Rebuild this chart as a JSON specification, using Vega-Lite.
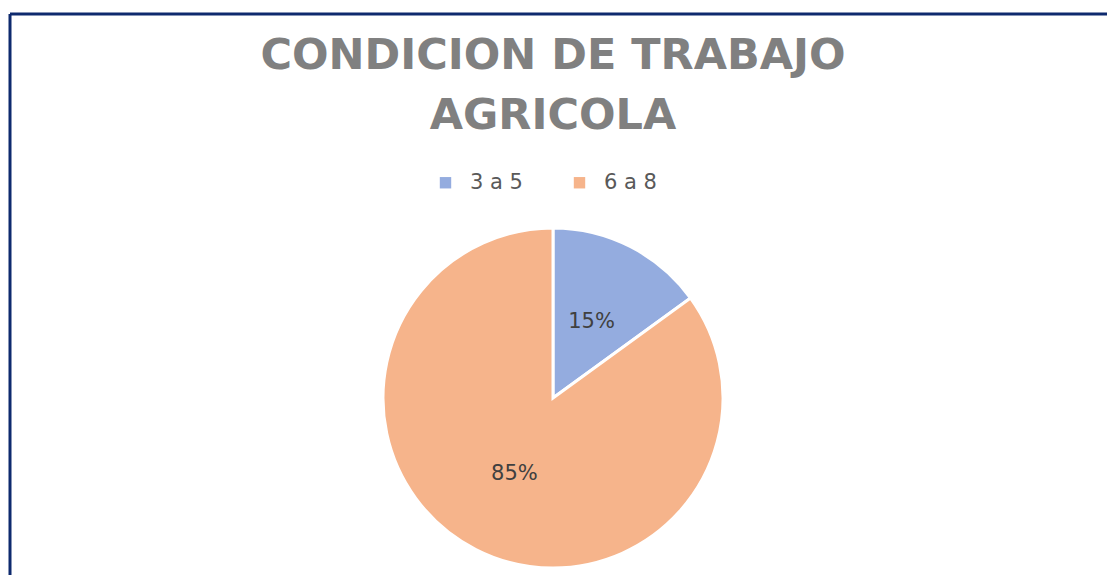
{
  "$schema": "https://vega.github.io/schema/vega-lite/v6.json",
  "width": 1097,
  "height": 561,
  "padding": {"left": 10, "top": 14, "right": 2, "bottom": 0},
  "autosize": {"type": "none"},
  "background": "white",
  "view": {"stroke": "#0E2A6E", "strokeWidth": 3, "strokeDash": [1097, 1658, 561, 0]},
  "title": {
    "text": ["CONDICION DE TRABAJO", "AGRICOLA"],
    "font": "DejaVu Sans",
    "fontSize": 43,
    "fontWeight": "bold",
    "color": "#808080",
    "anchor": "start",
    "orient": "top",
    "offset": -124,
    "lineHeight": 60,
    "dx": 543,
    "align": "center",
    "baseline": "top"
  },
  "data": {
    "values": [
      {"grupo": "3 a 5", "share": 0.15, "orden": 1},
      {"grupo": "6 a 8", "share": 0.85, "orden": 2}
    ]
  },
  "layer": [
    {
      "mark": {"type": "arc", "outerRadius": 170, "stroke": "white", "strokeWidth": 3},
      "encoding": {
        "theta": {"field": "share", "type": "quantitative", "stack": true},
        "order": {"field": "orden", "type": "quantitative"},
        "color": {
          "field": "grupo",
          "type": "nominal",
          "scale": {"domain": ["3 a 5", "6 a 8"], "range": ["#94ACDF", "#F6B48B"]},
          "legend": {
            "orient": "none",
            "legendX": 425,
            "legendY": 158,
            "direction": "horizontal",
            "title": null,
            "symbolType": "square",
            "symbolSize": 130,
            "symbolStrokeWidth": 0,
            "labelFont": "DejaVu Sans",
            "labelFontSize": 21,
            "labelColor": "#595959",
            "columnPadding": 46,
            "labelOffset": 14
          }
        },
        "x": {"value": 543},
        "y": {"value": 384}
      }
    },
    {
      "mark": {"type": "text", "radius": 85, "fontSize": 21, "font": "DejaVu Sans", "color": "#404040"},
      "encoding": {
        "theta": {"field": "share", "type": "quantitative", "stack": true},
        "order": {"field": "orden", "type": "quantitative"},
        "text": {"field": "share", "type": "quantitative", "format": ".0%"},
        "x": {"value": 543},
        "y": {"value": 384}
      }
    }
  ]
}
